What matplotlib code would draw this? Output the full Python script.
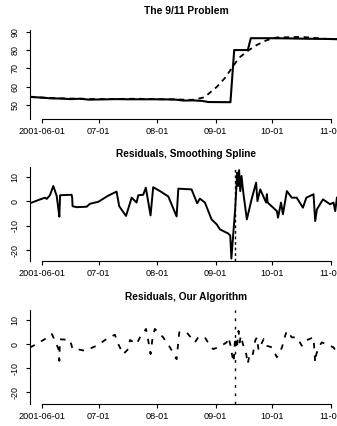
import matplotlib
matplotlib.use("Agg")
import matplotlib.pyplot as plt
import matplotlib.dates as mdates
import pandas as pd

plt.rcParams['font.family'] = ['Liberation Sans', 'DejaVu Sans']

# x values are days since 2001-06-01
BASE = pd.Timestamp('2001-06-01')

tick_days = [0, 30, 61, 92, 122, 153]
tick_labels = ['2001-06-01', '07-01', '08-01', '09-01', '10-01', '11-01']

# panel 1: price (solid) and smoothing spline (dashed)
price_days = [-6.4, -3, 0, 5, 10, 15, 20, 25, 30, 40, 45, 50, 60, 70, 75, 80,
              85, 88, 99.8, 101.8, 109.0, 110.6, 120, 130, 140, 150, 159]
price_vals = [54.5, 54.2, 54.0, 53.6, 53.5, 53.2, 53.4, 52.9, 53.0, 53.2, 53.1,
              53.1, 53.1, 53.0, 52.4, 52.5, 52.2, 51.6, 51.5, 80.1, 80.1, 86.6,
              86.6, 86.5, 86.3, 86.2, 86.0]

spline_days = [-6.4, 10, 30, 50, 70, 80, 86, 92.6, 96.9, 100.6, 104.3, 109.6,
               113.8, 119, 124.4, 137.6, 150.9, 159]
spline_vals = [54.3, 53.6, 53.2, 53.4, 53.0, 52.8, 54.2, 59.9, 64.8, 70.3, 75.8,
               80.1, 82.9, 85.5, 87.0, 87.3, 86.2, 86.0]

# panel 2: residuals of the smoothing spline
spl_res_days = [-6.4, -2, 1.6, 2.5, 4.2, 6.0, 7.8, 8.6, 9.2, 9.6, 15.7, 16.0,
                16.2, 18.4, 23.7, 25.4, 29.8, 35, 39.5, 40.9, 44.5, 47.5, 50.1,
                51.0, 53.6, 55.0, 57.5, 58.9, 62.5, 66.9, 71.3, 72.2, 79.2,
                82.2, 83.6, 86.3, 89.8, 92.6, 94.2, 98.6, 99.7, 100.3, 102.3,
                103.4, 103.9, 104.4, 105.0, 105.7, 106.4, 108.5, 111.0, 113.4,
                114.1, 115.6, 118.7, 119.1, 119.5, 124.4, 125.0, 126.6, 127.6,
                129.7, 132.3, 134.9, 138.2, 140.0, 143.8, 144.7, 145.6, 148.8,
                152.6, 154.4, 155.3, 156.2]
spl_res_vals = [-0.8, 0.5, 1.5, 1.0, 2.5, 6.3, 2.2, -2.6, -6.3, 2.5, 2.7, 1.5,
                -2.0, -2.4, -2.2, -1.0, -0.2, 2.3, 4.0, -2.0, -6.0, 1.5, -0.5,
                2.5, 2.7, 5.6, -5.8, 5.8, 4.2, 2.0, -6.2, 5.2, 4.9, -0.8, 1.1,
                -0.5, -7.4, -9.5, -11.5, -13.2, -14.0, -23.5, -3.3, 11.8, 6.3,
                12.8, 4.2, 10.4, 4.9, -7.4, 0.8, 7.7, 0.1, 4.9, -0.5, 2.9, -0.5,
                -4.0, -6.7, -0.5, -5.3, 4.2, 1.5, 1.5, -2.6, 1.5, 2.9, -8.1,
                -3.3, 0.8, -1.2, -0.5, -4.0, 1.5]

# panel 3: residuals of our algorithm
alg_res_days = [-6.4, -2.8, 1.6, 5.2, 6.9, 8.7, 9.2, 9.5, 14.8, 16.2, 18.4,
                22.8, 28.9, 34.2, 38.6, 40.4, 43.0, 45.7, 46.6, 50.1, 51.9,
                55.1, 56.3, 57.5, 58.6, 59.8, 64.2, 67.8, 71.3, 72.7, 76.6,
                81.0, 82.7, 86.3, 88.9, 90.7, 94.2, 97.8, 98.8, 100.1, 100.6,
                101.5, 102.3, 103.2, 104.1, 104.7, 105.3, 106.4, 108.2, 108.9,
                110.3, 111.7, 112.9, 113.8, 114.7, 117.4, 119.1, 121.8, 124.4,
                127.1, 128.8, 129.7, 132.3, 135.0, 137.6, 139.4, 143.8, 144.7,
                145.3, 146.5, 148.2, 152.6, 154.4, 156.2]
alg_res_vals = [-1.4, 0.0, 2.1, 4.2, 1.4, -2.0, -7.0, 2.0, 1.7, -2.0, -2.1,
                -2.8, -0.7, 2.1, 3.9, 0.0, -4.2, -2.1, 1.7, 0.0, 2.8, 6.3, 1.4,
                -4.2, 2.8, 6.3, 2.8, -1.4, -6.3, 4.9, 4.9, 0.7, 2.8, 2.8, -0.7,
                -2.1, -1.1, 0.7, 2.8, -1.4, -4.2, -7.6, 2.8, -2.1, 5.5, 0.7,
                3.5, 0.0, -4.2, -8.3, -3.5, -4.2, 1.4, 2.8, -2.5, 2.1, -0.7,
                -1.4, -5.5, -1.4, 3.5, 5.5, 2.8, 2.8, -0.7, 1.4, 2.8, -7.6,
                -4.2, -1.4, 0.7, -0.7, -1.4, -3.5]

event_day = 102  # 2001-09-11


def to_num(days):
    """Days since 2001-06-01 -> matplotlib date numbers."""
    return mdates.date2num(BASE + pd.to_timedelta(days, unit='D'))


def style_axis(ax, ylim, yticks):
    ax.set_xlim(to_num([-6.4])[0], to_num([159.4])[0])
    ax.set_ylim(*ylim)
    ax.set_xticks(to_num(tick_days))
    ax.set_xticklabels(tick_labels)
    ax.set_yticks(yticks)
    ax.set_yticklabels([str(t) for t in yticks], rotation=90, va='center')
    ax.spines['top'].set_visible(False)
    ax.spines['right'].set_visible(False)
    ax.spines['bottom'].set_bounds(to_num([0])[0], to_num([153])[0])
    ax.tick_params(axis='x', direction='out', length=3, width=0.8,
                   labelsize=6.6, pad=3)
    ax.tick_params(axis='y', direction='out', length=3, width=0.8,
                   labelsize=6.4, pad=4.5)


fig = plt.figure(figsize=(3.37, 4.26), dpi=100)

# 1. price and spline
ax1 = fig.add_axes([0.0887, 0.7207, 0.929, 0.2089])
ax1.plot(to_num(price_days), price_vals, color='black', lw=1.5)
ax1.plot(to_num(spline_days), spline_vals, color='black', lw=1.3,
         dashes=(3, 2.5))
style_axis(ax1, (42.3, 91.1), [50, 60, 70, 80, 90])
ax1.text(0.5, 1.219, 'The 9/11 Problem', transform=ax1.transAxes,
         ha='center', va='center', fontsize=7.4, fontweight='bold')

# 2. smoothing spline residuals
ax2 = fig.add_axes([0.0887, 0.3873, 0.929, 0.2207])
ax2.plot(to_num(spl_res_days), spl_res_vals, color='black', lw=1.4)
ax2.axvline(to_num([event_day])[0], color='black', lw=1.0, dashes=(2, 2))
style_axis(ax2, (-24.5, 14.1), [-20, -10, 0, 10])
ax2.text(0.5, 1.138, 'Residuals, Smoothing Spline', transform=ax2.transAxes,
         ha='center', va='center', fontsize=7.3, fontweight='bold')

# 3. our algorithm residuals
ax3 = fig.add_axes([0.0887, 0.0516, 0.929, 0.2207])
ax3.plot(to_num(alg_res_days), alg_res_vals, color='black', lw=1.3,
         dashes=(3, 4))
ax3.axvline(to_num([event_day])[0], color='black', lw=1.0, dashes=(2, 4))
style_axis(ax3, (-25.0, 14.2), [-20, -10, 0, 10])
ax3.text(0.5, 1.138, 'Residuals, Our Algorithm', transform=ax3.transAxes,
         ha='center', va='center', fontsize=7.3, fontweight='bold')

fig.savefig('out.png', dpi=100)
print("Saved: out.png")
